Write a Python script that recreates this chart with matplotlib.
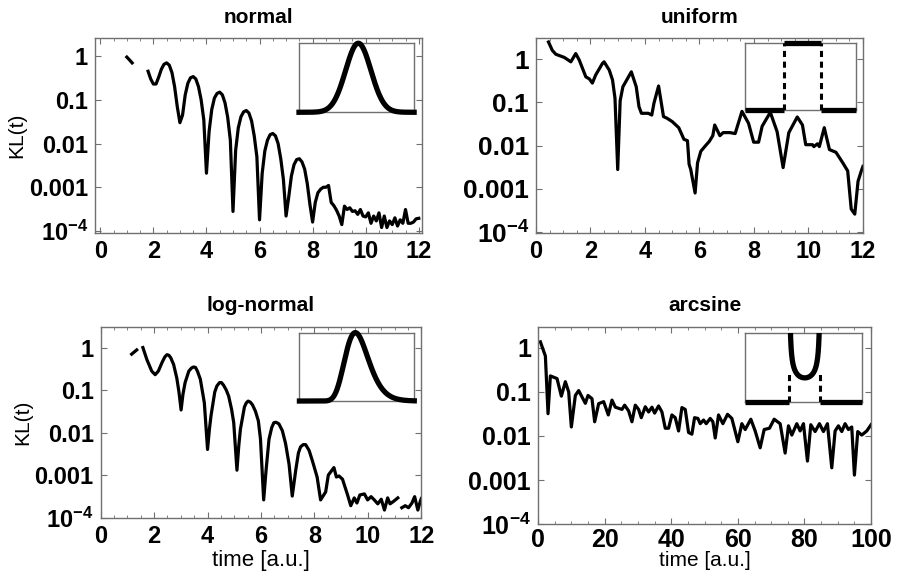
import numpy as np
import matplotlib
matplotlib.use('Agg')
import matplotlib.pyplot as plt
from matplotlib.ticker import FixedLocator, FixedFormatter, MultipleLocator, LogLocator, NullFormatter

plt.rcParams['font.family'] = ['Liberation Sans', 'DejaVu Sans']
plt.rcParams['mathtext.fontset'] = 'custom'
plt.rcParams['mathtext.rm'] = 'Liberation Sans'
plt.rcParams['mathtext.bf'] = 'Liberation Sans:bold'
plt.rcParams['mathtext.default'] = 'bf'

nan = np.nan

# ---- data ----
t_normal = np.round(np.arange(1.0, 12.05, 0.1), 1)
kl_normal = [
    0.95, 0.82, 0.70, nan, nan, nan, nan, nan, 0.45, 0.30,
    0.23, 0.23, 0.33, 0.50, 0.65, 0.70, 0.62, 0.42, 0.20, 0.07,
    0.03, 0.045, 0.13, 0.24, 0.32, 0.34, 0.30, 0.20, 0.10, 0.035,
    0.0021, 0.019, 0.06, 0.11, 0.14, 0.15, 0.13, 0.085, 0.04, 0.012,
    0.00028, 0.007, 0.023, 0.041, 0.053, 0.057, 0.05, 0.033, 0.015, 0.005,
    0.00018, 0.0021, 0.0068, 0.012, 0.016, 0.017, 0.015, 0.010, 0.0045, 0.0015,
    0.00022, 0.0006, 0.0018, 0.0033, 0.0043, 0.0045, 0.0038, 0.0026, 0.0012, 0.0004,
    0.00016, 0.00045, 0.00075, 0.0009, 0.001, 0.001, 0.0011, 0.00045, 0.00038, 0.0003,
    0.00022, 0.00014,
    3.7e-4, 3.1e-4, 3.4e-4, 2.8e-4, 2.9e-4, 2.4e-4, 3.1e-4, 2.2e-4, 2.1e-4, 2.6e-4,
    1.5e-4, 2.2e-4, 1.7e-4, 2.6e-4, 1.2e-4, 2.2e-4, 1.2e-4, 1.7e-4, 1.4e-4, 2.0e-4,
    1.3e-4, 1.8e-4, 1.5e-4,
    3.1e-4, 1.5e-4, 1.5e-4, 1.6e-4, 1.9e-4, 1.95e-4,
]

t_uniform = [0.46, 0.60, 0.73, 1.04, 1.28, 1.46, 1.59, 1.83, 1.96, 2.07, 2.19, 2.44, 2.50,
             2.69, 2.81, 2.90, 3.00, 3.09, 3.19, 3.50, 3.68, 3.78, 3.87, 4.12, 4.25, 4.33,
             4.50, 4.68, 4.81, 5.00, 5.24, 5.43, 5.56, 5.62, 5.68, 5.84, 5.93, 6.05, 6.20,
             6.36, 6.49, 6.56, 6.75, 6.87, 7.12, 7.31, 7.56, 7.80, 7.99, 8.17, 8.30, 8.60,
             8.85, 9.07, 9.28, 9.59, 9.78, 9.90, 10.15, 10.20, 10.33, 10.40, 10.58, 10.77,
             11.01, 11.26, 11.44, 11.57, 11.70, 11.82, 11.94, 12.00]
kl_uniform = [2.5, 1.6, 1.3, 1.1, 0.87, 1.35, 0.95, 0.39, 0.35, 0.28, 0.43, 0.8, 0.87,
              0.56, 0.33, 0.125, 0.0028, 0.11, 0.23, 0.51, 0.23, 0.08, 0.056, 0.056, 0.051, 0.096,
              0.24, 0.047, 0.043, 0.036, 0.026, 0.014, 0.013, 0.0037, 0.0028, 0.0008, 0.004, 0.0074, 0.0096,
              0.0125, 0.017, 0.03, 0.017, 0.02, 0.02, 0.019, 0.062, 0.033, 0.012, 0.012, 0.028, 0.059,
              0.021, 0.0031, 0.02, 0.046, 0.03, 0.0105, 0.0105, 0.0095, 0.011, 0.0095, 0.026, 0.0081,
              0.007, 0.004, 0.0026, 0.00034, 0.00026, 0.0015, 0.0026, 0.0033]

t_lognormal = [1.16, 1.35, 1.46, 1.58, 1.73, 1.91, 2.04, 2.16, 2.30, 2.40, 2.48, 2.55, 2.62,
               2.73, 2.85, 2.93, 3.01, 3.08, 3.16, 3.30, 3.40, 3.48, 3.55, 3.62, 3.73, 3.88,
               4.00, 4.07, 4.13, 4.27, 4.35, 4.45, 4.52, 4.60, 4.70, 4.79, 4.90, 4.98, 5.10,
               5.17, 5.23, 5.38, 5.45, 5.52, 5.60, 5.68, 5.79, 5.90, 5.98, 6.10, 6.19, 6.30,
               6.40, 6.48, 6.55, 6.60, 6.67, 6.80, 6.92, 7.05, 7.17, 7.30, 7.40, 7.48, 7.58,
               7.67, 7.80, 7.92, 8.10, 8.23, 8.42, 8.52, 8.73, 8.82, 8.92, 9.05, 9.24, 9.36,
               9.49, 9.59, 9.70, 9.87, 9.99, 10.12, 10.24, 10.37, 10.50, 10.62, 10.74, 10.83,
               10.96, 11.12, 11.20, 11.27, 11.40, 11.52, 11.65, 11.75, 11.87, 11.96, 12.00]
kl_lognormal = [0.70, 0.88, nan, 1.0, 0.52, 0.28, 0.23, 0.28, 0.45, 0.60, 0.68, 0.66, 0.58,
                0.40, 0.19, 0.09, 0.034, 0.08, 0.15, 0.28, 0.33, 0.35, 0.34, 0.28, 0.18, 0.05,
                0.004, 0.012, 0.025, 0.09, 0.125, 0.15, 0.15, 0.13, 0.10, 0.072, 0.035, 0.017, 0.0013,
                0.005, 0.012, 0.04, 0.05, 0.055, 0.052, 0.045, 0.032, 0.019, 0.0071, 0.00026, 0.0013, 0.007,
                0.013, 0.017, 0.0175, 0.017, 0.016, 0.011, 0.0055, 0.0018, 0.00032, 0.0013, 0.0033, 0.0046, 0.0052,
                0.0052, 0.0038, 0.0022, 0.0009, 0.00026, 0.0004, 0.001, 0.0015, 0.0009, 0.00095, 0.0008, 0.00034, 0.00019,
                0.00029, 0.00022, 0.00034, 0.00036, 0.00026, 0.00031, 0.00026, 0.00021, 0.00027, 0.00015, 0.00029, 0.00021,
                0.00024, 0.00029, nan, 0.00017, 0.00019, 0.00017, 0.00022, 0.00031, 0.00015, 0.00024, 0.00028]

t_arcsine = [0.7, 2.2, 3.0, 3.7, 5.7, 7.0, 8.2, 9.2, 10.0, 11.2, 12.2, 14.2, 15.0, 16.2, 17.0,
             18.2, 19.7, 21.1, 22.2, 23.2, 25.2, 26.0, 27.2, 28.2, 29.2, 30.2, 31.0, 32.2, 33.2,
             34.2, 35.0, 36.2, 37.2, 38.2, 39.2, 40.2, 41.2, 42.2, 43.2, 44.2, 45.2, 46.2, 47.0,
             48.0, 48.7, 49.7, 50.5, 51.7, 52.5, 53.2, 54.2, 55.5, 56.9, 58.2, 60.0, 61.2, 62.2,
             63.9, 65.2, 66.7, 67.9, 69.5, 70.9, 72.7, 74.2, 75.2, 76.2, 77.7, 78.7, 79.7, 80.9,
             81.9, 83.2, 84.5, 85.7, 86.9, 88.2, 89.2, 90.2, 91.2, 92.2, 93.2, 94.2, 95.0, 96.0,
             97.2, 98.7, 100.0]
kl_arcsine = [1.36, 0.65, 0.032, 0.23, 0.2, 0.08, 0.17, 0.1, 0.016, 0.083, 0.107, 0.055, 0.083, 0.07, 0.021,
              0.054, 0.06, 0.03, 0.065, 0.045, 0.04, 0.05, 0.037, 0.021, 0.05, 0.04, 0.026, 0.046, 0.035,
              0.045, 0.033, 0.048, 0.035, 0.015, 0.015, 0.03, 0.026, 0.013, 0.044, 0.04, 0.012, 0.011, 0.026,
              0.025, 0.019, 0.023, 0.019, 0.025, 0.021, 0.009, 0.03, 0.019, 0.031, 0.025, 0.0074, 0.019, 0.014,
              0.024, 0.013, 0.0054, 0.014, 0.015, 0.024, 0.019, 0.0041, 0.017, 0.0105, 0.019, 0.013, 0.019, 0.0027,
              0.018, 0.0126, 0.019, 0.0126, 0.019, 0.0019, 0.013, 0.017, 0.0126, 0.019, 0.014, 0.016, 0.0013, 0.0126,
              0.0105, 0.013, 0.018]

ytick_vals = [1e-4, 1e-3, 1e-2, 1e-1, 1]
ytick_labels = [r'$10^{-4}$', '0.001', '0.01', '0.1', '1']

FRAME = '#707070'


def style_axes(ax, xlim, ylim, xmaj, xmin, xfs=17, yfs=17):
    ax.set_yscale('log')
    ax.set_xlim(*xlim)
    ax.set_ylim(*ylim)
    ax.xaxis.set_major_locator(MultipleLocator(xmaj))
    ax.xaxis.set_minor_locator(MultipleLocator(xmin))
    ax.yaxis.set_major_locator(FixedLocator(ytick_vals))
    ax.yaxis.set_major_formatter(FixedFormatter(ytick_labels))
    ax.yaxis.set_minor_locator(LogLocator(base=10, subs=np.arange(2, 10)))
    ax.yaxis.set_minor_formatter(NullFormatter())
    ax.tick_params(which='both', direction='in', top=True, right=True, color=FRAME)
    ax.tick_params(which='major', length=4, width=0.8)
    ax.tick_params(which='minor', length=2, width=0.6)
    ax.tick_params(axis='x', labelsize=xfs, pad=5)
    ax.tick_params(axis='y', labelsize=yfs, pad=5)
    for lab in ax.get_xticklabels() + ax.get_yticklabels():
        lab.set_fontweight('bold')
    for sp in ax.spines.values():
        sp.set_color(FRAME)
        sp.set_linewidth(1.0)


def inset_frame(ins):
    ins.set_xticks([])
    ins.set_yticks([])
    for sp in ins.spines.values():
        sp.set_color(FRAME)
        sp.set_linewidth(1.0)
        sp.set_zorder(1)


fig = plt.figure(figsize=(9.02, 5.78), dpi=100)
fig.patch.set_facecolor('white')

ax_n = fig.add_axes([0.1053, 0.5969, 0.3625, 0.3374])
ax_u = fig.add_axes([0.5942, 0.5969, 0.3625, 0.3374])
ax_l = fig.add_axes([0.1116, 0.1033, 0.3555, 0.3315])
ax_a = fig.add_axes([0.5965, 0.0930, 0.3692, 0.3418])

LW = 2.3
ax_n.plot(t_normal, kl_normal, color='black', lw=LW)
ax_u.plot(t_uniform, kl_uniform, color='black', lw=LW)
ax_l.plot(t_lognormal, kl_lognormal, color='black', lw=LW)
ax_a.plot(t_arcsine, kl_arcsine, color='black', lw=LW)

style_axes(ax_n, (-0.2, 12.12), (9e-5, 2.6), 2, 0.5)
style_axes(ax_u, (0, 12), (9.5e-5, 3.1), 2, 0.5, yfs=19)
style_axes(ax_l, (0, 12), (9.6e-5, 3.1), 2, 0.5)
style_axes(ax_a, (0, 100), (1e-4, 3.0), 20, 5, xfs=18, yfs=18)
ax_a.tick_params(axis='x', pad=3)

for ax, name in [(ax_n, 'normal'), (ax_u, 'uniform'), (ax_l, 'log-normal'), (ax_a, 'arcsine')]:
    ax.set_title(name, fontsize=15, fontweight='bold', pad=11)

ax_n.set_ylabel('KL(t)', fontsize=15, labelpad=2)
ax_l.set_ylabel('KL(t)', fontsize=15, labelpad=2)
ax_l.set_xlabel('time [a.u.]', fontsize=16, labelpad=1)
ax_a.set_xlabel('time [a.u.]', fontsize=15, labelpad=-1)

# ---- insets with the initial distributions ----
INS_LW = 3.8
x = np.linspace(0, 1, 400)

# normal
mu_n, sig_n = 0.515, 0.11
ins = ax_n.inset_axes([0.624, 0.619, 0.352, 0.354])
ins.plot(x, np.exp(-0.5 * ((x - mu_n) / sig_n) ** 2), color='black', lw=INS_LW, clip_on=False, zorder=3)
ins.set_xlim(0, 1)
ins.set_ylim(0, 1)
inset_frame(ins)

# log-normal
med_l, s_l = 0.51, 0.21
ins = ax_l.inset_axes([0.619, 0.612, 0.359, 0.357])
xl = x[1:]
pdf_l = np.exp(-0.5 * (np.log(xl / med_l) / s_l) ** 2) / xl
ins.plot(xl, pdf_l / pdf_l.max(), color='black', lw=INS_LW, clip_on=False, zorder=3)
ins.set_xlim(0, 1)
ins.set_ylim(0, 1)
inset_frame(ins)

# uniform
ua, ub = 0.354, 0.68
ins = ax_u.inset_axes([0.639, 0.631, 0.34, 0.342])
for xs, ys in [([0, ua], [0, 0]), ([ua, ub], [1, 1]), ([ub, 1], [0, 0])]:
    ins.plot(xs, ys, color='black', lw=INS_LW, clip_on=False, solid_capstyle='butt', zorder=3)
for xv in (ua, ub):
    ins.plot([xv, xv], [0, 1], color='black', lw=2.2, ls=(0, (2, 1.5)), zorder=3)
ins.set_xlim(0, 1)
ins.set_ylim(0, 1)
inset_frame(ins)

# arcsine
aa, ab = 0.38, 0.643
ins = ax_a.inset_axes([0.622, 0.617, 0.35, 0.353])
xa = np.linspace(aa + 1e-4, ab - 1e-4, 600)
ins.plot(xa, 1 / (np.pi * np.sqrt((xa - aa) * (ab - xa))), color='black', lw=INS_LW, zorder=3)
for xs in ([0, aa], [ab, 1]):
    ins.plot(xs, [0, 0], color='black', lw=INS_LW, clip_on=False, solid_capstyle='butt', zorder=3)
for xv in (aa, ab):
    ins.plot([xv, xv], [0, 3.2], color='black', lw=2.2, ls=(0, (2, 1.5)), zorder=3)
ins.set_xlim(0, 1)
ins.set_ylim(0, 6.9)
inset_frame(ins)

fig.savefig('out.png', dpi=100)
